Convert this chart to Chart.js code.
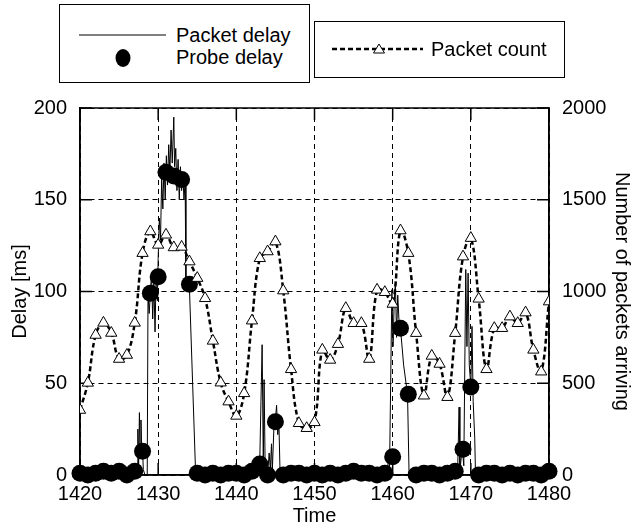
<!DOCTYPE html>
<html><head><meta charset="utf-8">
<script src="https://cdn.jsdelivr.net/npm/chart.js@4.4.0/dist/chart.umd.min.js"></script>
<style>
html,body{margin:0;padding:0;background:#fff;}
#wrap{position:relative;width:634px;height:528px;overflow:hidden;}
#c{position:absolute;left:0;top:0;}
.box{position:absolute;border:1.5px solid #000;box-sizing:border-box;background:#fff;font-family:"Liberation Sans",Arial,sans-serif;font-size:20px;color:#000;}
.lbl{position:absolute;line-height:22px;white-space:nowrap;}
.box svg{position:absolute;overflow:visible;}
</style></head><body>
<div id="wrap">
<canvas id="c" width="634" height="528"></canvas>
<div class="box" style="left:59px;top:4px;width:251px;height:79px;">
  <svg style="left:0;top:0" width="250" height="78"><line x1="19" y1="30" x2="106" y2="30" stroke="#000" stroke-width="1"/></svg>
  <div class="lbl" style="left:116px;top:19px;">Packet delay</div>
  <svg style="left:0;top:0" width="250" height="78"><ellipse cx="63" cy="53" rx="7.5" ry="9" fill="#000"/></svg>
  <div class="lbl" style="left:116px;top:41px;">Probe delay</div>
</div>
<div class="box" style="left:314px;top:21px;width:251px;height:57px;">
  <svg style="left:0;top:0" width="250" height="56"><line x1="17" y1="27" x2="108" y2="27" stroke="#000" stroke-width="2.5" stroke-dasharray="5,3"/><polygon points="64,22 69.5,31 58.5,31" fill="#fff" stroke="#000" stroke-width="1"/></svg>
  <div class="lbl" style="left:116px;top:16px;">Packet count</div>
</div>
</div>
<script>
// ---- data ----
const seconds = [1420,1421,1422,1423,1424,1425,1426,1427,1428,1429,1430,1431,1432,1433,1434,1435,1436,1437,1438,1439,1440,1441,1442,1443,1444,1445,1446,1447,1448,1449,1450,1451,1452,1453,1454,1455,1456,1457,1458,1459,1460,1461,1462,1463,1464,1465,1466,1467,1468,1469,1470,1471,1472,1473,1474,1475,1476,1477,1478,1479,1480];
const packetCount = [354,502,763,829,774,632,654,829,1209,1327,1254,1309,1240,1243,1163,1073,963,731,503,400,322,445,841,1181,1218,1272,1005,576,282,255,287,682,627,713,909,827,827,632,1009,996,932,1332,1209,773,432,649,605,424,773,1190,1291,960,576,800,800,863,827,885,682,563,945];
const probeDelay = [1,0,1,2,1,2,0,2,13,99,108,165,163,161,104,1,0,1,0,1,1,0,2,6,0,29,0,1,1,0,1,0,1,0,1,2,1,1,0,1,10,80,44,0,1,1,0,1,2,14,48,0,1,1,0,1,0,1,1,0,2];
const packetDelayTime = [1420,1427.3,1427.4,1427.5,1427.6,1427.7,1427.8,1427.9,1428.0,1428.1,1428.3,1428.6,1428.7,1428.85,1429.0,1429.15,1429.3,1429.45,1429.6,1429.75,1429.9,1430.0,1430.15,1430.3,1430.45,1430.6,1430.75,1430.9,1431.05,1431.2,1431.35,1431.5,1431.65,1431.8,1432.0,1432.1,1432.25,1432.4,1432.55,1432.7,1432.85,1433.0,1433.15,1433.3,1433.45,1433.55,1433.8,1434.0,1434.8,1442.8,1443.0,1443.15,1443.3,1443.45,1443.55,1443.7,1444.0,1444.2,1444.35,1444.5,1444.6,1444.8,1445.0,1445.15,1445.3,1445.45,1445.6,1459.3,1459.5,1459.6,1459.9,1460.05,1460.2,1460.35,1460.5,1460.65,1460.8,1461.0,1461.4,1461.9,1462.1,1468.3,1468.5,1468.6,1468.9,1469.1,1469.35,1469.5,1469.65,1469.8,1470.0,1470.15,1470.3,1470.5,1470.6,1480];
const packetDelayValue = [0,0,25,4,34,10,30,12,14,3,0,0,99,88,99,110,85,105,78,112,95,118,140,128,162,145,170,150,174,158,180,165,188,170,195,168,178,155,172,150,168,155,165,150,160,105,100,102,0,0,8,40,71,5,52,0,0,12,3,17,2,25,30,38,22,28,0,0,12,3,101,70,95,105,75,98,85,80,60,44,0,0,37,2,15,5,112,70,110,60,48,81,40,20,0,0];
const xTickValues = [1420,1430,1440,1450,1460,1470,1480];
const delayTickValues = [0,50,100,150,200];
const countTickValues = [0,500,1000,1500,2000];

const FONT = '"Liberation Sans", Arial, sans-serif';
const plain = v => String(v);
const framePlugin = {
  id: 'frame',
  beforeDatasetsDraw(chart) {
    const {ctx, chartArea: a, scales} = chart;
    ctx.save();
    ctx.setLineDash([]);
    ctx.strokeStyle = '#000';
    ctx.lineWidth = 1.5;
    ctx.strokeRect(a.left, a.top, a.right - a.left, a.bottom - a.top);
    const L = 12;
    const seg = (x1, y1, x2, y2) => { ctx.beginPath(); ctx.moveTo(x1, y1); ctx.lineTo(x2, y2); ctx.stroke(); };
    xTickValues.forEach(v => { const p = scales.x.getPixelForValue(v); seg(p, a.top, p, a.top + L); seg(p, a.bottom, p, a.bottom - L); });
    delayTickValues.forEach(v => { const p = scales.y.getPixelForValue(v); seg(a.left, p, a.left + L, p); });
    countTickValues.forEach(v => { const p = scales.y1.getPixelForValue(v); seg(a.right, p, a.right - L, p); });
    ctx.restore();
  }
};

new Chart(document.getElementById('c'), {
  type: 'scatter',
  data: {
    datasets: [
      {
        label: 'Packet count',
        data: seconds.map((t, i) => ({x: t, y: packetCount[i]})),
        yAxisID: 'y1',
        showLine: true,
        borderColor: '#000',
        borderWidth: 2.5,
        borderDash: [5, 3],
        tension: 0.4,
        pointStyle: 'triangle',
        pointRadius: 6.5,
        pointBackgroundColor: '#fff',
        pointBorderColor: '#000',
        pointBorderWidth: 1,
        order: 1
      },
      {
        label: 'Probe delay',
        data: seconds.map((t, i) => ({x: t, y: probeDelay[i]})),
        yAxisID: 'y',
        showLine: false,
        pointRadius: 8.5,
        pointBackgroundColor: '#000',
        pointBorderWidth: 0,
        clip: false,
        order: 2
      },
      {
        label: 'Packet delay',
        data: packetDelayTime.map((t, i) => ({x: t, y: packetDelayValue[i]})),
        yAxisID: 'y',
        showLine: true,
        borderColor: '#000',
        borderWidth: 1,
        pointRadius: 0,
        tension: 0,
        order: 3
      }
    ]
  },
  options: {
    responsive: false,
    animation: false,
    events: [],
    layout: {padding: {top: 108, left: 0, right: 0, bottom: 0}},
    plugins: {legend: {display: false}, tooltip: {enabled: false}},
    scales: {
      x: {
        type: 'linear', min: 1420, max: 1480,
        afterBuildTicks: s => { s.ticks = xTickValues.map(v => ({value: v})); },
        afterFit: s => { s.height = 53; },
        grid: {color: '#000', lineWidth: 1, drawTicks: false},
        border: {display: true, color: '#000', width: 1.5, dash: [5, 4]},
        ticks: {color: '#000', font: {family: FONT, size: 20}, padding: 7, maxRotation: 0, callback: plain},
        title: {display: true, text: 'Time', color: '#000', font: {family: FONT, size: 20}, padding: {top: 0, bottom: 0}}
      },
      y: {
        type: 'linear', position: 'left', min: 0, max: 200,
        afterBuildTicks: s => { s.ticks = delayTickValues.map(v => ({value: v})); },
        afterFit: s => { s.width = 80; },
        grid: {color: '#000', lineWidth: 1, drawTicks: false},
        border: {display: true, color: '#000', width: 1.5, dash: [5, 4]},
        ticks: {color: '#000', font: {family: FONT, size: 20}, padding: 13, callback: plain},
        title: {display: true, text: 'Delay [ms]', color: '#000', font: {family: FONT, size: 20}, padding: {top: 8, bottom: 0}}
      },
      y1: {
        type: 'linear', position: 'right', min: 0, max: 2000,
        afterBuildTicks: s => { s.ticks = countTickValues.map(v => ({value: v})); },
        afterFit: s => { s.width = 85; },
        grid: {display: false, drawTicks: false},
        border: {display: true, color: '#000', width: 1.5},
        ticks: {color: '#000', font: {family: FONT, size: 20}, padding: 13, callback: plain},
        title: {display: true, text: 'Number of packets arriving', color: '#000', font: {family: FONT, size: 20}, padding: {top: 0, bottom: 0}}
      }
    }
  },
  plugins: [framePlugin]
});
</script>
</body></html>
